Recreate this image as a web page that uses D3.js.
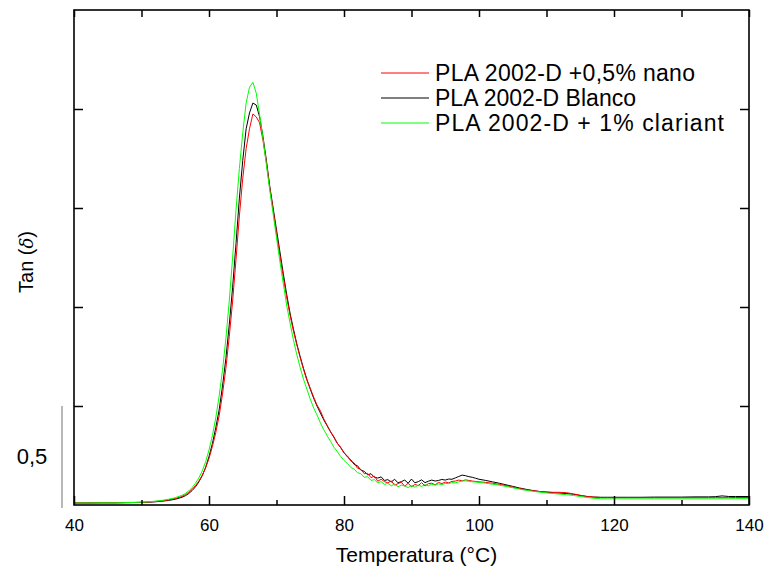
<!DOCTYPE html>
<html>
<head>
<meta charset="utf-8">
<script src="https://cdn.jsdelivr.net/npm/d3@7"></script>
<style>
html,body{margin:0;padding:0;background:#fff;}
svg{display:block;font-family:"Liberation Sans",Arial,sans-serif;}
</style>
</head>
<body>
<svg id="chart" width="765" height="572"></svg>
<script>
// Temperature grid (°C)
const temps = [
 40,42,44,46,48,50,51,52,53,54,55,56,
 56.5,57,57.5,58,58.5,59,59.5,60,60.5,61,61.5,62,62.5,63,63.5,64,64.5,65,65.5,66,66.5,67,67.5,68,
 68.5,69,69.5,70,70.5,71,71.5,72,72.5,73,73.5,74,74.5,75,75.5,76,76.5,77,77.5,78,78.5,79,79.5,80,
 80.5,81,81.5,82,82.5,83,83.5,84,84.5,85,85.5,86,86.5,87,87.5,88,88.5,89,89.5,90,
 90.5,91,91.5,92,92.5,93,93.5,94,94.5,95,95.5,96,96.5,97,97.5,98,98.5,99,99.5,100,
 101,102,103,104,105,106,107,108,109,110,111,112,113,114,115,116,117,118,119,120,
 122,124,126,128,130,132,134,135,136,137,138,140
];

// PLA 2002-D +0,5% nano (red)
const nanoValues = [
 0.010,0.010,0.011,0.011,0.012,0.014,0.015,0.018,0.021,0.026,0.033,0.043,
 0.052,0.064,0.079,0.098,0.121,0.150,0.188,0.235,0.295,0.365,0.45,0.56,0.69,0.85,1.03,1.24,1.46,1.65,1.80,1.90,1.975,1.96,1.93,1.84,
 1.73,1.60,1.49,1.37,1.26,1.15,1.05,0.96,0.88,0.81,0.745,0.685,0.63,0.59,0.545,0.505,0.476,0.435,0.403,0.37,0.345,0.312,0.292,0.262,
 0.248,0.222,0.212,0.186,0.180,0.158,0.160,0.138,0.146,0.120,0.130,0.118,0.112,0.122,0.100,0.108,0.115,0.094,0.110,0.092,
 0.104,0.098,0.113,0.096,0.108,0.110,0.102,0.114,0.108,0.116,0.112,0.119,0.121,0.126,0.122,0.127,0.124,0.121,0.119,0.117,
 0.114,0.110,0.104,0.098,0.090,0.083,0.077,0.072,0.068,0.066,0.064,0.064,0.062,0.056,0.049,0.043,0.040,0.038,0.037,0.037,
 0.037,0.037,0.037,0.037,0.037,0.037,0.037,0.037,0.037,0.037,0.038,0.038
];

// PLA 2002-D Blanco (black)
const blancoValues = [
 0.010,0.010,0.011,0.011,0.012,0.013,0.014,0.016,0.019,0.023,0.029,0.039,
 0.047,0.058,0.073,0.092,0.117,0.148,0.190,0.245,0.310,0.390,0.48,0.60,0.74,0.91,1.10,1.32,1.55,1.74,1.90,1.98,2.03,2.02,1.96,1.86,
 1.74,1.61,1.50,1.39,1.28,1.17,1.065,0.97,0.89,0.815,0.75,0.69,0.635,0.585,0.54,0.50,0.465,0.43,0.40,0.37,0.342,0.312,0.29,0.265,
 0.243,0.228,0.205,0.198,0.176,0.170,0.152,0.158,0.140,0.136,0.142,0.124,0.128,0.116,0.130,0.112,0.118,0.126,0.110,0.131,
 0.112,0.118,0.127,0.113,0.120,0.126,0.121,0.124,0.129,0.126,0.131,0.130,0.137,0.144,0.151,0.148,0.143,0.140,0.135,0.130,
 0.124,0.117,0.110,0.102,0.094,0.086,0.079,0.073,0.068,0.065,0.062,0.060,0.058,0.054,0.048,0.043,0.040,0.039,0.039,0.039,
 0.039,0.039,0.040,0.040,0.040,0.041,0.041,0.042,0.046,0.043,0.043,0.043
];

// PLA 2002-D + 1% clariant (green)
const clariantValues = [
 0.010,0.010,0.011,0.011,0.012,0.014,0.016,0.019,0.023,0.029,0.037,0.049,
 0.058,0.071,0.088,0.110,0.137,0.172,0.218,0.278,0.350,0.440,0.55,0.68,0.84,1.03,1.25,1.49,1.70,1.88,2.03,2.11,2.135,2.08,1.97,1.85,
 1.72,1.59,1.47,1.35,1.23,1.12,1.01,0.92,0.835,0.76,0.695,0.635,0.585,0.535,0.49,0.455,0.415,0.38,0.35,0.322,0.292,0.27,0.245,0.225,
 0.210,0.190,0.182,0.163,0.158,0.140,0.143,0.124,0.128,0.112,0.118,0.104,0.109,0.097,0.106,0.092,0.100,0.096,0.088,0.098,
 0.090,0.100,0.094,0.103,0.097,0.105,0.100,0.107,0.103,0.109,0.108,0.113,0.112,0.117,0.121,0.122,0.120,0.117,0.116,0.114,
 0.110,0.105,0.100,0.094,0.087,0.080,0.074,0.069,0.065,0.061,0.058,0.055,0.052,0.048,0.043,0.038,0.034,0.032,0.031,0.031,
 0.031,0.031,0.031,0.031,0.031,0.031,0.031,0.031,0.031,0.031,0.032,0.032
];

const seriesNames = ["PLA 2002-D +0,5% nano", "PLA 2002-D Blanco", "PLA 2002-D + 1% clariant"];
const seriesColors = ["#ff0000", "#000000", "#00ff00"];
const legendWidths = [260, 201, 289];
const xTickLabels = [40, 60, 80, 100, 120, 140];
const xMinorTicks = [50, 70, 90, 110, 130];
const yTicks = [0.5, 1.0, 1.5, 2.0];
const scaleBarValue = 0.5;
const scaleBarLabel = "0,5";

const svg = d3.select("#chart");
const m = {left: 74, right: 749, top: 10, bottom: 505};
const x = d3.scaleLinear().domain([40, 140]).range([m.left, m.right]);
const y = d3.scaleLinear().domain([0, 2.5]).range([m.bottom, m.top]);

const series = [nanoValues, blancoValues, clariantValues];
const line = d3.line().x(d => x(d[0])).y(d => y(d[1]));

svg.append("clipPath").attr("id","clip").append("rect")
  .attr("x", m.left).attr("y", m.top).attr("width", m.right - m.left).attr("height", m.bottom - m.top);

const g = svg.append("g").attr("clip-path","url(#clip)");
[1, 0, 2].forEach(i => {
  const data = temps.map((t, k) => [t, series[i][k]]).filter(d => d[1] != null);
  g.append("path").datum(data).attr("d", line)
    .attr("fill","none").attr("stroke", seriesColors[i]).attr("stroke-width", 1);
});

// Axes
const axBottom = d3.axisBottom(x).tickValues(xTickLabels).tickSize(-9).tickFormat(d => d).tickPadding(14);
const gb = svg.append("g").attr("transform", `translate(0,${m.bottom})`).call(axBottom);
gb.select(".domain").remove();
gb.selectAll("line").attr("stroke","#000").attr("stroke-width",1.5);
gb.selectAll("text").attr("font-size", 17).attr("fill","#000").attr("font-family","Liberation Sans, Arial, sans-serif");
const gbm = svg.append("g").attr("transform", `translate(0,${m.bottom})`)
  .call(d3.axisBottom(x).tickValues(xMinorTicks).tickSize(-5).tickFormat(""));
gbm.select(".domain").remove();
gbm.selectAll("line").attr("stroke","#000").attr("stroke-width",1.5);

const gt = svg.append("g").attr("transform", `translate(0,${m.top})`)
  .call(d3.axisTop(x).tickValues(xTickLabels.concat(xMinorTicks)).tickSize(-7).tickFormat(""));
gt.select(".domain").remove();
gt.selectAll("line").attr("stroke","#000").attr("stroke-width",1.5);

const gl = svg.append("g").attr("transform", `translate(${m.left},0)`)
  .call(d3.axisLeft(y).tickValues(yTicks).tickSize(-9).tickFormat(""));
gl.select(".domain").remove();
gl.selectAll("line").attr("stroke","#000").attr("stroke-width",1.5);
const gr = svg.append("g").attr("transform", `translate(${m.right},0)`)
  .call(d3.axisRight(y).tickValues(yTicks).tickSize(-9).tickFormat(""));
gr.select(".domain").remove();
gr.selectAll("line").attr("stroke","#000").attr("stroke-width",1.5);

svg.append("rect").attr("x", m.left).attr("y", m.top)
  .attr("width", m.right - m.left).attr("height", m.bottom - m.top)
  .attr("fill","none").attr("stroke","#000").attr("stroke-width",1.6);

// scale bar
svg.append("line").attr("x1", 62).attr("x2", 62)
  .attr("y1", y(0) + 3).attr("y2", y(scaleBarValue))
  .attr("stroke","#888").attr("stroke-width",1.2);
svg.append("text").attr("x", 32).attr("y", (y(0) + y(scaleBarValue)) / 2 + 8)
  .attr("text-anchor","middle").attr("font-size", 22).text(scaleBarLabel);

// axis titles
svg.append("text").attr("x", (m.left + m.right) / 2 + 5).attr("y", 562)
  .attr("text-anchor","middle").attr("font-size", 21).text("Temperatura (°C)");
const yt = svg.append("text").attr("transform", `translate(33,${262}) rotate(-90)`)
  .attr("text-anchor","middle").attr("font-size", 20);
yt.append("tspan").text("Tan (");
yt.append("tspan").attr("font-family","DejaVu Serif, serif").attr("font-style","italic").attr("font-size",18).text("δ");
yt.append("tspan").text(")");

// legend
const lg = svg.append("g");
seriesNames.forEach((name, i) => {
  const ly = 73 + i * 25;
  lg.append("line").attr("x1", 381).attr("x2", 429).attr("y1", ly).attr("y2", ly)
    .attr("stroke", seriesColors[i]).attr("stroke-width", 1);
  lg.append("text").attr("x", 435).attr("y", ly + 8).attr("font-size", 23)
    .attr("textLength", legendWidths[i]).attr("lengthAdjust", "spacing").text(name);
});
</script>
</body>
</html>
